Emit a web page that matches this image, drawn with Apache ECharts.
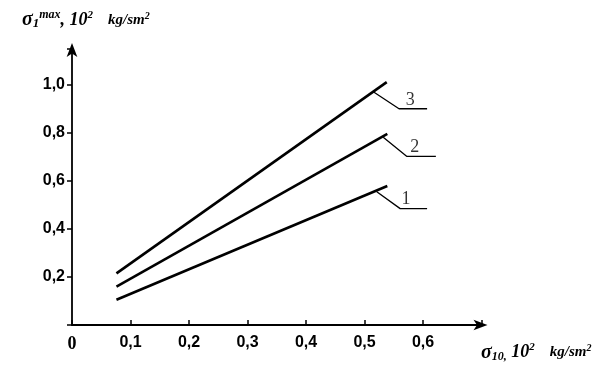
<!DOCTYPE html>
<html>
<head>
<meta charset="utf-8">
<script src="https://cdn.jsdelivr.net/npm/echarts@6/dist/echarts.min.js"></script>
<style>html,body{margin:0;padding:0;background:#fff}#c{width:608px;height:365px}</style>
</head>
<body>
<div id="c"></div>
<script>
// curve endpoints [x, y]
const xStart = 0.076;
const xEnd = 0.539;
const curve1 = [[xStart, 0.105], [xEnd, 0.579]];
const curve2 = [[xStart, 0.160], [xEnd, 0.796]];
const curve3 = [[xStart, 0.215], [0.538, 1.012]];
const curveNames = ['1', '2', '3'];
// callout leader lines (data coordinates)
const leader1 = [[0.521, 0.555], [0.561, 0.485], [0.607, 0.485]];
const leader2 = [[0.532, 0.782], [0.572, 0.703], [0.622, 0.703]];
const leader3 = [[0.515, 0.972], [0.559, 0.901], [0.607, 0.901]];
const calloutPos = [[0.571, 0.525], [0.586, 0.740], [0.578, 0.935]];
// axes
const xMin = 0, xMax = 0.7, xStep = 0.1;
const yMin = 0, yMax = 1.15, yStep = 0.2;

const chart = echarts.init(document.getElementById('c'), null, {renderer: 'canvas'});
const black = '#000';
const fmt = v => v.toFixed(1).replace('.', ',');

function curve(name, data) {
  return {type: 'line', name, data, symbol: 'none', silent: true,
    lineStyle: {color: black, width: 2.6}, z: 3};
}
function leader(data) {
  return {type: 'line', data, symbol: 'none', silent: true,
    lineStyle: {color: black, width: 1.3}, z: 3};
}
const serif = {fontFamily: 'Liberation Serif', fontStyle: 'italic', fontWeight: 'bold', color: black};

const option = {
  animation: false,
  backgroundColor: '#fff',
  grid: {left: 72, right: 126.5, top: 49, bottom: 40, containLabel: false},
  title: [
    {
      left: 17, top: 4,
      text: '{s|σ}{sub|1}{sup|max}{n|, 10}{sup2|2}{sp| }{u|kg/sm}{usup|2}',
      textStyle: {
        rich: {
          s: Object.assign({fontSize: 20}, serif),
          sub: Object.assign({fontSize: 13, padding: [8, 0, 0, 0]}, serif),
          sup: Object.assign({fontSize: 12, padding: [0, 0, 10, 0]}, serif),
          n: Object.assign({fontSize: 18}, serif),
          sup2: Object.assign({fontSize: 11, padding: [0, 0, 10, 0]}, serif),
          sp: {fontSize: 12, width: 15},
          u: Object.assign({fontSize: 15}, serif),
          usup: Object.assign({fontSize: 10, padding: [0, 0, 8, 0]}, serif)
        }
      }
    },
    {
      left: 476, top: 337,
      text: '{s|σ}{sub|10,}{n| 10}{sup2|2}{sp| }{u|kg/sm}{usup|2}',
      textStyle: {
        rich: {
          s: Object.assign({fontSize: 20}, serif),
          sub: Object.assign({fontSize: 12, padding: [8, 0, 0, 0]}, serif),
          n: Object.assign({fontSize: 18}, serif),
          sup2: Object.assign({fontSize: 11, padding: [0, 0, 10, 0]}, serif),
          sp: {fontSize: 12, width: 15},
          u: Object.assign({fontSize: 15}, serif),
          usup: Object.assign({fontSize: 10, padding: [0, 0, 8, 0]}, serif)
        }
      }
    }
  ],
  xAxis: {
    type: 'value', min: xMin, max: xMax, interval: xStep,
    splitLine: {show: false},
    axisLine: {show: true, onZero: false, symbol: ['none', 'arrow'], symbolSize: [8, 14], symbolOffset: [0, 6],
      lineStyle: {color: black, width: 1.8}},
    axisTick: {show: true, inside: true, length: 5, lineStyle: {color: black, width: 1.5}},
    axisLabel: {
      margin: 10, color: black, fontSize: 16, fontWeight: 'bold', fontFamily: 'Liberation Sans',
      formatter: v => (v > 0.65 ? '' : (v === 0 ? '{z|0}' : fmt(v))),
      rich: {z: {fontFamily: 'Liberation Serif', fontWeight: 'bold', fontSize: 18, color: black, padding: [0, 0, 10, 0]}}
    }
  },
  yAxis: {
    type: 'value', min: yMin, max: yMax, interval: yStep,
    splitLine: {show: false},
    axisLine: {show: true, onZero: false, symbol: ['none', 'arrow'], symbolSize: [8, 14], symbolOffset: [0, 6],
      lineStyle: {color: black, width: 1.8}},
    axisTick: {show: true, length: 5, lineStyle: {color: black, width: 1.5}},
    axisLabel: {
      margin: 7, color: black, fontSize: 16, fontWeight: 'bold', fontFamily: 'Liberation Sans',
      formatter: v => (v === 0 || v > 1.05 ? '' : fmt(v))
    }
  },
  series: [
    curve(curveNames[0], curve1),
    curve(curveNames[1], curve2),
    curve(curveNames[2], curve3),
    leader(leader1), leader(leader2), leader(leader3),
    {
      type: 'scatter', symbolSize: 0, silent: true, z: 4,
      data: calloutPos.map((p, i) => ({value: p, name: curveNames[i]})),
      label: {show: true, position: 'inside', formatter: p => p.name,
        fontFamily: 'Liberation Serif', fontSize: 18, color: black}
    }
  ]
};
chart.setOption(option);
</script>
</body>
</html>
